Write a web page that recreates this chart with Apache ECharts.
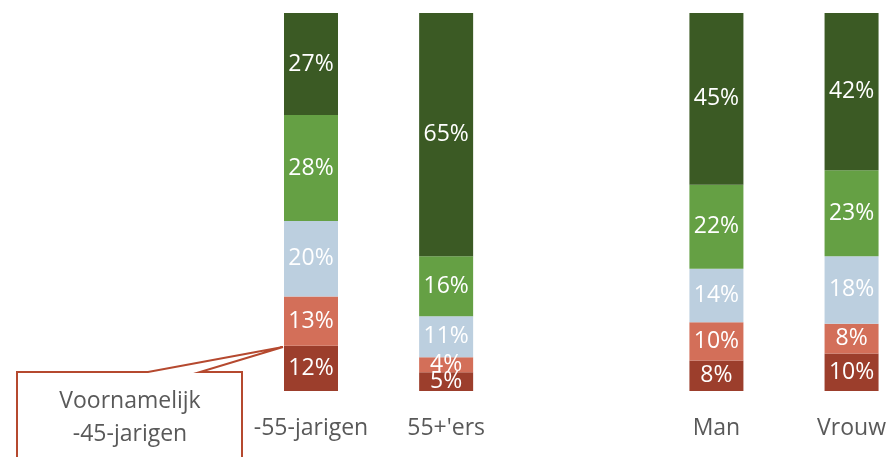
<!DOCTYPE html>
<html>
<head>
<meta charset="utf-8">
<script src="https://cdn.jsdelivr.net/npm/echarts@6/dist/echarts.min.js"></script>
<style>
  html, body { margin: 0; padding: 0; background: #fff; }
  #chart { width: 889px; height: 457px; }
</style>
</head>
<body>
<div id="chart"></div>
<script>
// categorieen (lege kolom tussen leeftijd en geslacht)
var categories = ['-55-jarigen', "55+'ers", '', 'Man', 'Vrouw'];

// percentages per segment, van onder naar boven
var seg1 = [12, 5, null, 8, 10];
var seg2 = [13, 4, null, 10, 8];
var seg3 = [20, 11, null, 14, 18];
var seg4 = [28, 16, null, 22, 23];
var seg5 = [27, 65, null, 45, 42];

var colors = ['#9c3e2c', '#d36f59', '#bccfdf', '#65a044', '#3b5a24'];
var allSegs = [seg1, seg2, seg3, seg4, seg5];

// totalen per kolom, zodat elke balk op 100% uitkomt
var totals = categories.map(function (c, i) {
  var t = 0;
  allSegs.forEach(function (s) { t += s[i] || 0; });
  return t;
});

function makeSeries(vals, idx) {
  return {
    type: 'bar',
    stack: 'totaal',
    barWidth: 54,
    clip: false,
    itemStyle: { color: colors[idx] },
    label: {
      show: true,
      position: 'inside',
      color: '#fff',
      fontFamily: 'Open Sans',
      fontSize: 23,
      formatter: function (p) { return p.data.raw + '%'; }
    },
    data: vals.map(function (v, i) {
      if (v == null) return null;
      return { value: v / totals[i] * 100, raw: v };
    })
  };
}

var chart = echarts.init(document.getElementById('chart'));
chart.setOption({
  animation: false,
  grid: { left: 311, top: 13, width: 541, height: 378 },
  xAxis: {
    type: 'category',
    data: categories,
    boundaryGap: false,
    axisLine: { show: false },
    axisTick: { show: false },
    axisLabel: { interval: 0, color: '#595959', fontFamily: 'Open Sans', fontSize: 23, margin: 26 }
  },
  yAxis: { type: 'value', min: 0, max: 100, show: false },
  series: allSegs.map(makeSeries),
  graphic: [
    {
      type: 'polygon',
      shape: { points: [[17, 372], [148, 372], [283, 347], [200, 372], [242, 372], [242, 470], [17, 470]] },
      style: { fill: '#fff', stroke: '#b5492f', lineWidth: 2 },
      z: 100
    },
    {
      type: 'text',
      x: 130, y: 385,
      style: {
        text: 'Voornamelijk\n-45-jarigen',
        textAlign: 'center',
        fill: '#595959',
        font: '23px "Open Sans"',
        lineHeight: 33
      },
      z: 101
    }
  ]
});
</script>
</body>
</html>
